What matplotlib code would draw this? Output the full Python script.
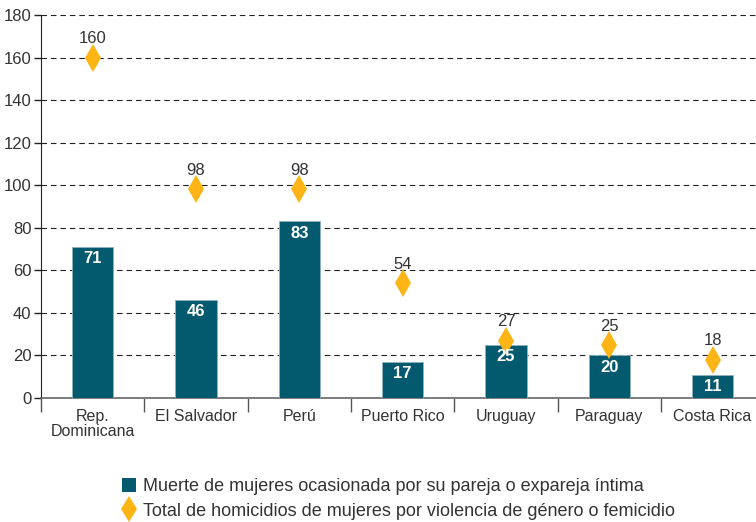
import matplotlib
matplotlib.use("Agg")
import matplotlib.pyplot as plt
from matplotlib.lines import Line2D

plt.rcParams['font.family'] = ['Liberation Sans', 'DejaVu Sans']

countries = ["Rep.\nDominicana", "El Salvador", "Perú", "Puerto Rico", "Uruguay", "Paraguay", "Costa Rica"]
pareja = [71, 46, 83, 17, 25, 20, 11]
total = [160, 98, 98, 54, 27, 25, 18]
yticks = [0, 20, 40, 60, 80, 100, 120, 140, 160, 180]

bar_color = "#03596D"
dia_color = "#FDB515"
text_color = "#333333"

fig = plt.figure(figsize=(7.56, 5.22), dpi=100)
ax = fig.add_axes([41/756, 1 - 398/522, 715/756, 383/522])

x = list(range(len(countries)))
ax.bar(x, pareja, width=0.4, color=bar_color, edgecolor="#8fb4bf", linewidth=0.6, zorder=3)
for xi, v in zip(x, pareja):
    ax.annotate(str(v), (xi, v), xytext=(0, -8.5), textcoords="offset points",
                ha="center", va="center", color="white", fontsize=12, fontweight="bold", zorder=5)

ax.plot(x, total, linestyle="none", marker="d", markersize=14, markeredgewidth=0,
        color=dia_color, zorder=4)
for xi, v in zip(x, total):
    ax.annotate(str(v), (xi, v), xytext=(0, 13.5), textcoords="offset points",
                ha="center", va="center", color=text_color, fontsize=12, zorder=5)

ax.set_ylim(0, 180)
ax.set_xlim(-0.5, 6.42)
ax.set_yticks(yticks)
ax.set_yticklabels([str(t) for t in yticks], fontsize=12, color=text_color)
ax.yaxis.grid(True, linestyle=(0, (5, 3.5)), color="#222222", linewidth=0.8, zorder=0)
ax.set_axisbelow(True)

ax.set_xticks(x)
ax.set_xticklabels(countries, fontsize=11.5, color=text_color, linespacing=1.0)
ax.tick_params(axis="x", length=0, pad=8)
ax.set_xticks([i + 0.5 for i in range(-1, len(countries) - 1)], minor=True)
ax.tick_params(axis="x", which="minor", length=10, width=1, color="#555555")
ax.tick_params(axis="y", length=5, width=1, color="#222222", pad=2)

for s in ["top", "right"]:
    ax.spines[s].set_visible(False)
ax.spines["left"].set_color("#222222")
ax.spines["bottom"].set_color("#666666")
ax.spines["bottom"].set_linewidth(1.2)

handles = [
    Line2D([0], [0], linestyle="none", marker="s", markersize=10, color=bar_color, markeredgewidth=0),
    Line2D([0], [0], linestyle="none", marker="d", markersize=13, color=dia_color, markeredgewidth=0),
]
labels = ["Muerte de mujeres ocasionada por su pareja o expareja íntima",
          "Total de homicidios de mujeres por violencia de género o femicidio"]
fig.legend(handles, labels, loc="center", bbox_to_anchor=(0.526, 1 - 499/522), frameon=False,
           fontsize=13, handletextpad=0.3, labelspacing=0.4, handlelength=1.0,
           labelcolor=text_color)

fig.savefig("out.png", dpi=100)
